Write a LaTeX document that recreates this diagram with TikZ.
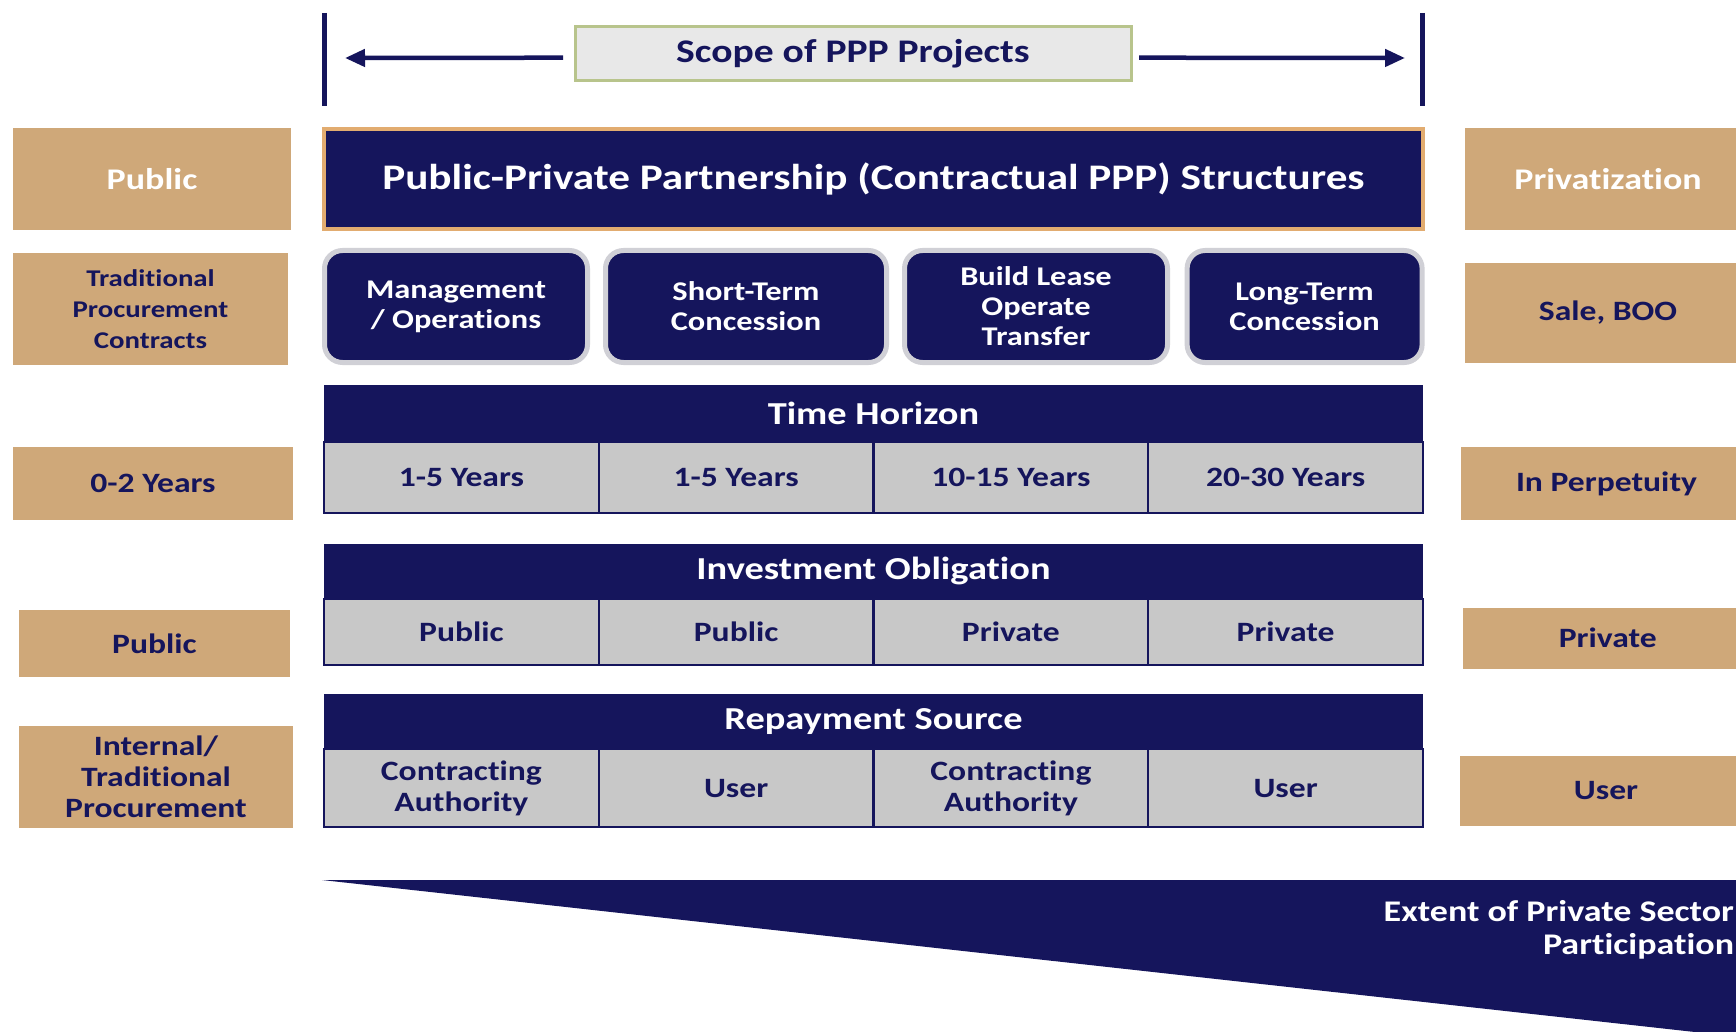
\documentclass[tikz,border=0pt]{standalone}
\usepackage{fontspec}
\setmainfont{Carlito}[FakeStretch=1.2,Ligatures={NoCommon}]
\usetikzlibrary{arrows.meta}
\definecolor{navy}{RGB}{21,21,92}
\definecolor{tanc}{RGB}{207,168,121}
\definecolor{cellgray}{RGB}{200,200,200}
\definecolor{scopefill}{RGB}{232,232,232}
\definecolor{scopeline}{RGB}{184,196,140}
\definecolor{orangeline}{RGB}{226,172,112}
\definecolor{shadowgray}{RGB}{208,208,214}
\newcommand{\fs}[2]{\fontsize{#1}{#2}\selectfont}
\begin{document}
\begin{tikzpicture}[x=1pt,y=-1pt,
  every node/.style={inner sep=0pt, outer sep=0pt, align=center, font=\bfseries},
  tanbox/.style={fill=tanc, text=navy, font=\bfseries\fs{28}{31}},
  tanwhite/.style={fill=tanc, text=white, font=\bfseries\fs{30}{33}},
  typebox/.style={fill=navy, text=white, draw=shadowgray, line width=5pt, rounded corners=18pt,
    minimum height=112pt, font=\bfseries\fs{27}{30}},
  header/.style={fill=navy, text=white, minimum width=1099pt, font=\bfseries\fs{32}{34}},
  cell/.style={fill=cellgray, text=navy, draw=navy, line width=2pt, minimum width=274.75pt, font=\bfseries\fs{28}{31}},
  bar/.style={draw=navy, line width=4.5pt},
  scopearrow/.style={draw=navy, line width=4.5pt, -{Triangle[length=20pt,width=17pt]}},
]
\useasboundingbox (0,0) rectangle (1736,1032);
\clip (0,0) rectangle (1736,1032);
\fill[white] (0,0) rectangle (1736,1032);

% scope bars and arrows
\draw[bar] (324.4,13) -- (324.4,106);
\draw[bar] (1422.5,13) -- (1422.5,106);
\node[fill=scopefill, draw=scopeline, line width=3pt, minimum width=556pt, minimum height=53.5pt,
  text=navy, font=\bfseries\fs{33}{35}] (scope) at (853,53.7) {Scope of PPP Projects};
\coordinate (lt) at (345,58);
\coordinate (rt) at (1405,58);
\draw[scopearrow] ([xshift=-12pt,yshift=-4pt]scope.west) -- (lt);
\draw[scopearrow] ([xshift=8pt,yshift=-4pt]scope.east) -- (rt);

% main title box
\node[fill=navy, draw=orangeline, line width=4pt, minimum width=1098.7pt, minimum height=100.4pt,
  text=white, font=\bfseries\fs{36}{38}] (ppp) at (873.4,179.2)
  {Public-Private Partnership (Contractual PPP) Structures};

% left column
\node[tanwhite, minimum width=278pt, minimum height=102pt] (l1) at (152,179) {Public};
\node[tanbox, minimum width=275pt, minimum height=111.5pt, font=\bfseries\fs{24}{31}] (l2) at (150.5,309)
  {Traditional\\Procurement\\Contracts};
\node[tanbox, minimum width=280pt, minimum height=73pt] (l3) at (153,483.5) {0-2 Years};
\node[tanbox, minimum width=271pt, minimum height=67.5pt] (l4) at (154.5,643.7) {Public};
\node[tanbox, minimum width=274pt, minimum height=102pt] (l5) at (156,777)
  {Internal/\\Traditional\\Procurement};

% right column
\node[tanwhite, minimum width=287pt, minimum height=102pt] (r1) at (1608,179) {Privatization};
\node[tanbox, minimum width=287pt, minimum height=99.5pt] (r2) at (1608,313) {Sale, BOO};
\node[tanbox, minimum width=291pt, minimum height=73pt] (r3) at (1606.5,483.5) {In Perpetuity};
\node[tanbox, minimum width=288.5pt, minimum height=61pt] (r4) at (1607.7,638) {Private};
\node[tanbox, minimum width=292pt, minimum height=70pt] (r5) at (1606,791) {User};

% PPP types
\node[typebox, minimum width=263pt] (b1) at (456,306.5) {Management\\/ Operations};
\node[typebox, minimum width=281pt] (b2) at (746,306.5) {Short-Term\\Concession};
\node[typebox, minimum width=263pt] (b3) at (1036,306.5) {Build Lease\\Operate\\Transfer};
\node[typebox, minimum width=235pt] (b4) at (1304.6,306.5) {Long-Term\\Concession};

% Time horizon table
\node[header, minimum height=56.7pt] (th) at (873.5,413.4) {Time Horizon};
\node[cell, minimum height=70.8pt] (t1) at (461.4,477.1) {1-5 Years};
\node[cell, minimum height=70.8pt] (t2) at (736.1,477.1) {1-5 Years};
\node[cell, minimum height=70.8pt] (t3) at (1010.9,477.1) {10-15 Years};
\node[cell, minimum height=70.8pt] (t4) at (1285.6,477.1) {20-30 Years};

% Investment obligation table
\node[header, minimum height=55.5pt] (ih) at (873.5,571.3) {Investment Obligation};
\node[cell, minimum height=66.3pt] (i1) at (461.4,632.2) {Public};
\node[cell, minimum height=66.3pt] (i2) at (736.1,632.2) {Public};
\node[cell, minimum height=66.3pt] (i3) at (1010.9,632.2) {Private};
\node[cell, minimum height=66.3pt] (i4) at (1285.6,632.2) {Private};

% Repayment source table
\node[header, minimum height=55.4pt] (rh) at (873.5,721.7) {Repayment Source};
\node[cell, minimum height=77.6pt] (s1) at (461.4,788.2) {Contracting\\Authority};
\node[cell, minimum height=77.6pt] (s2) at (736.1,788.2) {User};
\node[cell, minimum height=77.6pt] (s3) at (1010.9,788.2) {Contracting\\Authority};
\node[cell, minimum height=77.6pt] (s4) at (1285.6,788.2) {User};

% wedge
\fill[navy] (322,880) -- (1740,880) -- (1740,1037) -- cycle;
\node[anchor=east, align=right, text=white, font=\bfseries\fs{30}{33}] (ext) at (1734,930)
  {Extent of Private Sector\\Participation};
\end{tikzpicture}
\end{document}
